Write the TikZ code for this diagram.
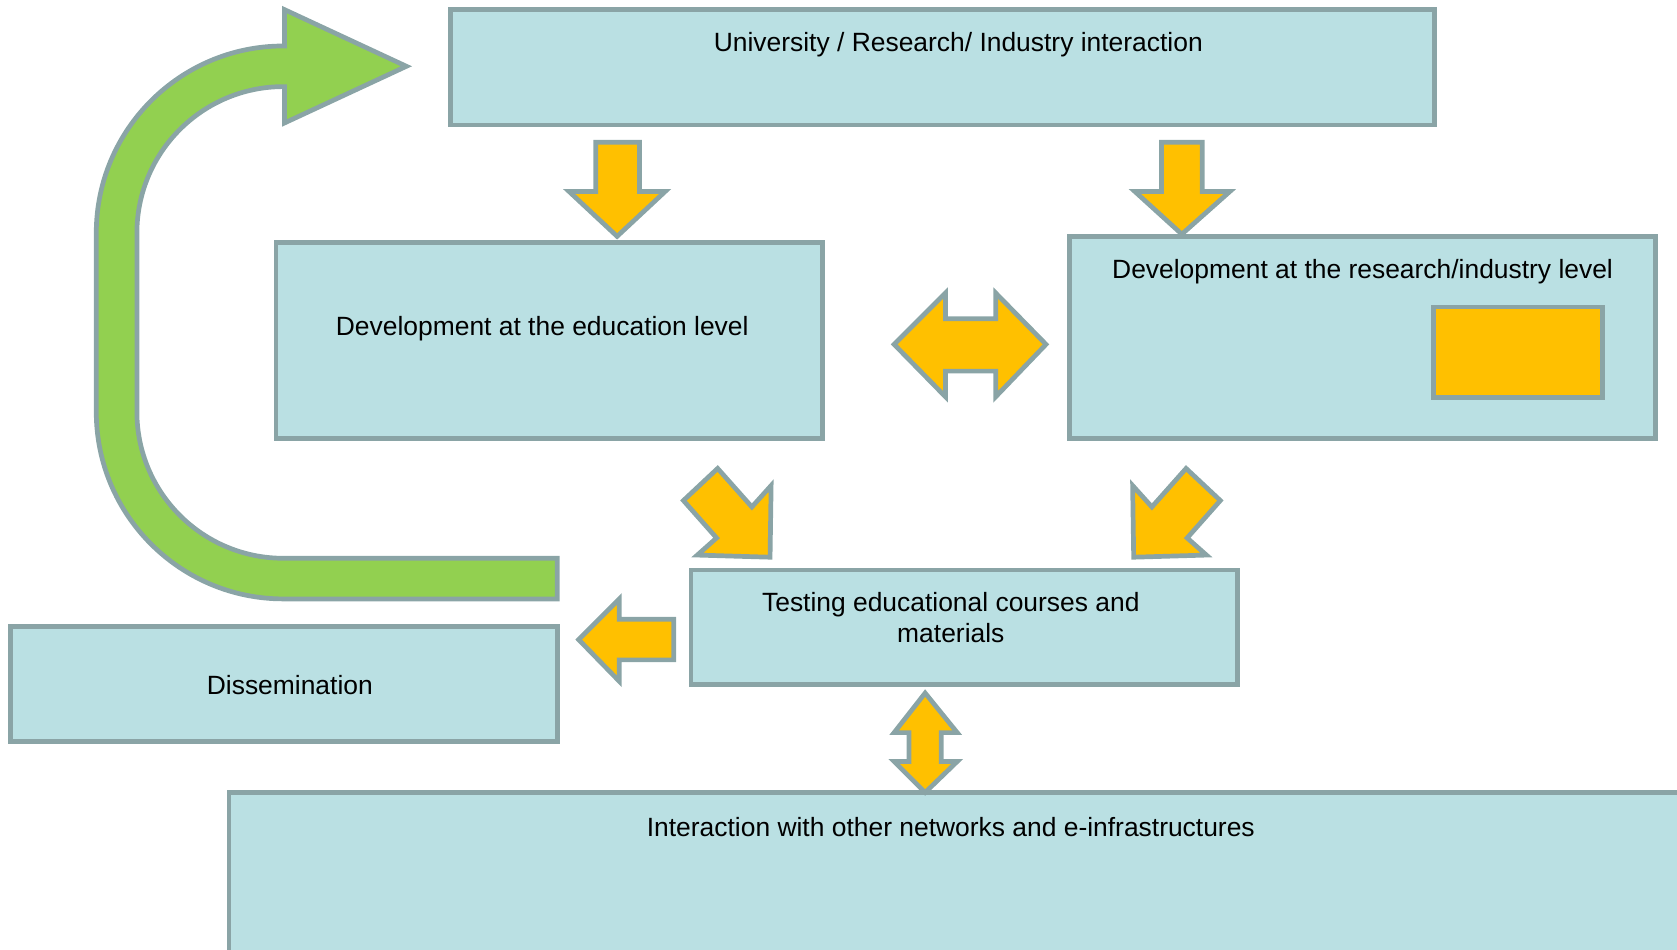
\documentclass[tikz,border=0pt]{standalone}
\usepackage{fontspec}
\setmainfont{Liberation Sans}
\usepackage{tikz}
\definecolor{boxblue}{RGB}{186,224,227}
\definecolor{edgegray}{RGB}{138,164,166}
\definecolor{blockorange}{RGB}{255,192,0}
\definecolor{loopgreen}{RGB}{146,208,80}
\tikzset{
	box/.style={draw=edgegray, fill=boxblue, line width=2.2pt, inner sep=0pt},
	blockarrow/.style={draw=edgegray, fill=blockorange, line width=2.2pt},
	lbl/.style={font=\fontsize{12.35}{14.5}\selectfont, inner sep=0pt, align=center}
}

\begin{document}
\begin{tikzpicture}[x=0.5pt, y=0.5pt]
		%%%%% START %%%%%
		\clip (0, 62) rectangle (1568, 950);
		
		% boxes
		\node[box, minimum width=460pt, minimum height=54pt] (univ) at (881, 887) {};
		\node[box, minimum width=255.5pt, minimum height=91.5pt] (edu) at (513.5, 631.5) {};
		\node[box, minimum width=274pt, minimum height=94.5pt] (res) at (1274, 634.5) {};
		\node[box, fill=blockorange, minimum width=79pt, minimum height=42.5pt] (resinner) at (1419, 620.5) {};
		\node[box, minimum width=255.5pt, minimum height=53.5pt] (test) at (901.5, 363.5) {};
		\node[box, minimum width=255.5pt, minimum height=53.5pt] (diss) at (265.5, 310.5) {};
		\node[box, minimum width=743pt, minimum height=117pt] (net) at (957, 92) {};
		
		% texts
		\node[lbl] (univtext) at (896, 908) {University / Research/ Industry interaction};
		\node[lbl] (edutext) at (507, 643) {Development at the education level};
		\node[lbl] (restext) at (1274, 696) {Development at the research/industry level};
		\node[lbl] (testtext) at (889, 373) {Testing educational courses and\\materials};
		\node[lbl] (disstext) at (271, 309) {Dissemination};
		\node[lbl] (nettext) at (889, 177) {Interaction with other networks and e-infrastructures};
		
		% green loop back to the top
		\draw[draw=edgegray, fill=loopgreen, line width=2.2pt]
			(521, 428) -- (265, 428) arc (270:180:137) -- (128, 732) arc (180:90:137)
			-- (266, 869) -- (266, 835) -- (380, 888) -- (266, 941) -- (266, 907)
			-- (265, 907) arc (90:180:175) -- (90, 565) arc (180:270:175) -- (521, 390) -- cycle;
		
		% down arrows
		\draw[blockarrow] (557, 817) -- (598, 817) -- (598, 771) -- (622, 771) -- (577, 729) -- (532, 771) -- (557, 771) -- cycle;
		\draw[blockarrow] (1086, 817) -- (1124, 817) -- (1124, 771) -- (1150, 771) -- (1105, 731) -- (1061, 771) -- (1086, 771) -- cycle;
		
		% both ways between the two levels
		\draw[blockarrow] (836, 628) -- (884, 676) -- (884, 652) -- (931, 652) -- (931, 676) -- (978, 628)
			-- (931, 579) -- (931, 603) -- (884, 603) -- (884, 579) -- cycle;
		
		% diagonal arrows into testing
		\draw[blockarrow] (671, 512) -- (703, 476) -- (721, 496) -- (720, 429) -- (652, 431) -- (670, 447) -- (639, 482) -- cycle;
		\draw[blockarrow] (1109, 512) -- (1077, 476) -- (1059, 496) -- (1060, 429) -- (1128, 431) -- (1110, 447) -- (1141, 482) -- cycle;
		
		% to dissemination
		\draw[blockarrow] (630, 371) -- (579, 371) -- (579, 390) -- (541, 352) -- (579, 313) -- (579, 333) -- (630, 333) -- cycle;
		
		% testing <-> networks
		\draw[blockarrow] (865, 302) -- (895, 265) -- (880, 265) -- (880, 238) -- (895, 238) -- (865, 209)
			-- (836, 238) -- (850, 238) -- (850, 265) -- (836, 265) -- cycle;
		
		%%%%% END %%%%%
	\end{tikzpicture}
\end{document}
